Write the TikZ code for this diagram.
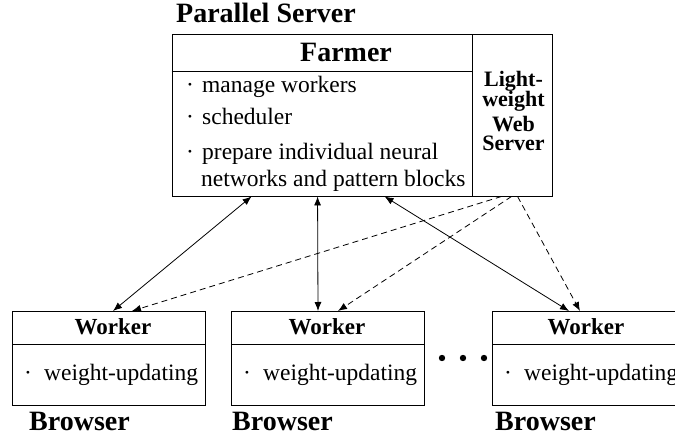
\documentclass[tikz,border=0pt]{standalone}
\usepackage{fontspec}
\setmainfont{Liberation Serif}
\usetikzlibrary{arrows.meta}
\begin{document}
\begin{tikzpicture}[x=1pt, y=-1pt,
  box/.style={draw, line width=0.9pt, inner sep=0pt},
  big/.style={inner sep=0pt, anchor=base west, font=\fontsize{28}{30}\selectfont\bfseries},
  item/.style={inner sep=0pt, anchor=base west, font=\fontsize{23.5}{25}\selectfont},
  srv/.style={inner sep=0pt, anchor=base, font=\fontsize{22}{23}\selectfont\bfseries},
  link/.style={line width=0.8pt, {Latex[length=9pt,width=7pt]}-{Latex[length=9pt,width=7pt]}},
  push/.style={line width=0.8pt, dash pattern=on 6pt off 4pt, -{Latex[length=9pt,width=7pt]}}]
  \useasboundingbox (0,0) rectangle (675,438);
  \clip (0,0) rectangle (675,438);
  % server
  \node [big] (title) at (176,23) {Parallel Server};
  \node [box, minimum width=300pt, minimum height=162pt] (farmer) at (322,115) {};
  \node [box, minimum width=80pt, minimum height=162pt] (web) at (512,115) {};
  \draw [line width=0.9pt] (farmer.north west) ++(0,38) -- ++(300,0);
  \node [big, anchor=base] (farmername) at (346,62) {Farmer};
  \foreach \y/\t [count=\i] in {93/manage workers, 125/scheduler, 160/prepare individual neural} {
    \node [item] (dot\i) at (186,\y) {\textperiodcentered};
    \node [item] (task\i) at (202,\y) {\t};
  };
  \node [item] (task4) at (201,187) {networks and pattern blocks};
  \foreach \y/\t [count=\i] in {87/Light-, 107/weight, 132/Web, 151/Server} {
    \node [srv] (srv\i) at (513.5,\y) {\t};
  };
  % workers
  \foreach \x/\c/\b [count=\i] in {12/113/29, 231/327/232, 492/586/495} {
    \node [box, anchor=north west, minimum width=193pt, minimum height=94pt] (worker\i) at (\x,311) {};
    \draw [line width=0.9pt] (worker\i.north west) ++(0,33) -- ++(193,0);
    \node [srv, font=\fontsize{23}{24}\selectfont\bfseries] (wname\i) at (\c,335) {Worker};
    \node [item] (wdot\i) at (\x+12,381) {\textperiodcentered};
    \node [item] (wtask\i) at (\x+32,381) {weight-updating};
    \node [big] (browser\i) at (\b,430) {Browser};
  };
  \foreach \x in {442,463,484} {
    \fill (\x,358) circle (3.2);
  };
  % connections
  \draw [link] ([xshift=80]farmer.south west) -- ([xshift=101]worker1.north west);
  \draw [link] ([xshift=146]farmer.south west) -- ([xshift=87]worker2.north west);
  \draw [link] ([xshift=213]farmer.south west) -- ([xshift=77]worker3.north west);
  \draw [push] ([xshift=30]web.south west) -- ([xshift=120]worker1.north west);
  \draw [push] ([xshift=40]web.south west) -- ([xshift=107]worker2.north west);
  \draw [push] ([xshift=46]web.south west) -- ([xshift=88]worker3.north west);
\end{tikzpicture}
\end{document}
